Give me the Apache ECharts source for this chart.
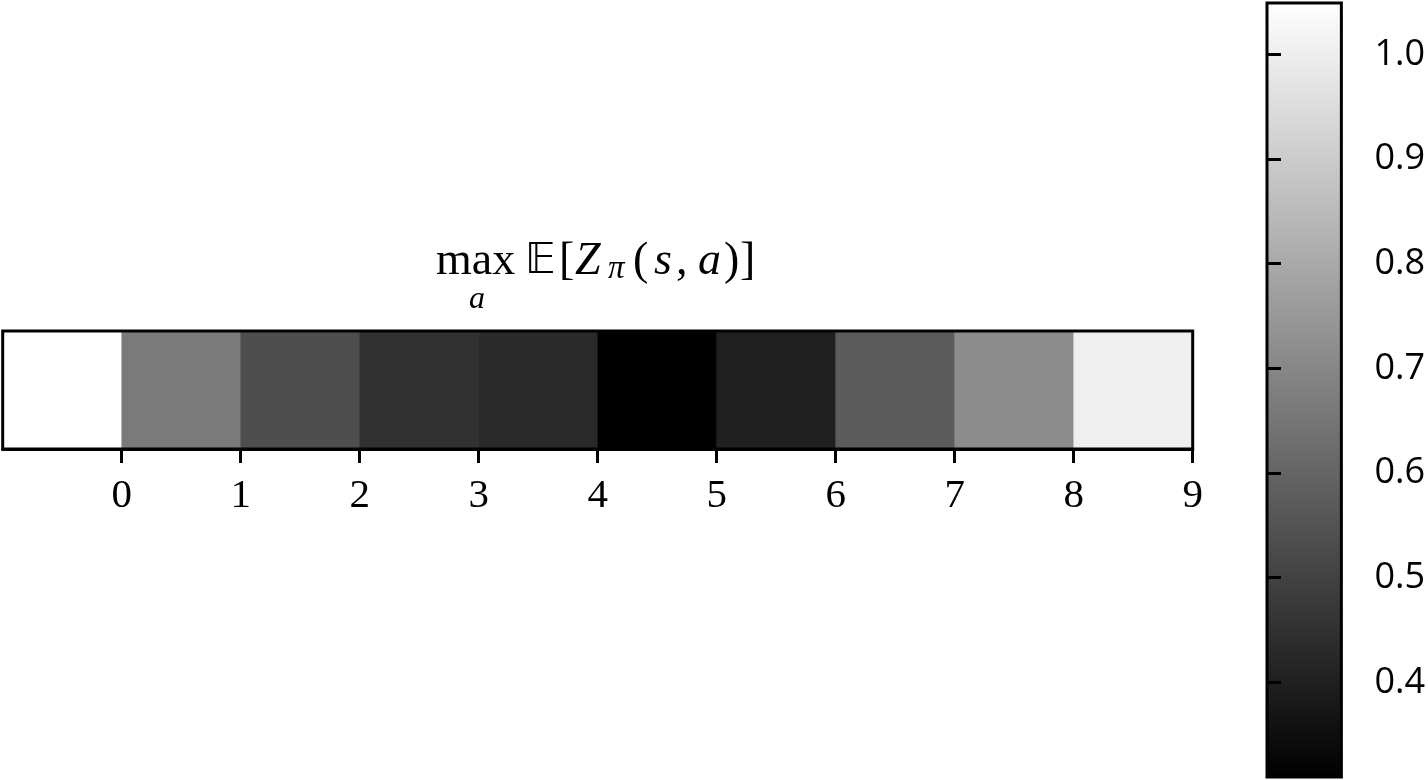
<!DOCTYPE html>
<html>
<head>
<meta charset="utf-8">
<script src="https://cdn.jsdelivr.net/npm/echarts@6/dist/echarts.min.js"></script>
<style>
  html, body { margin: 0; padding: 0; background: #fff; }
  #chart { width: 1428px; height: 780px; }
</style>
</head>
<body>
<div id="chart"></div>
<script>
// ---- data ----
const cellIndex = [0, 1, 2, 3, 4, 5, 6, 7, 8, 9];
const cellValues = [1.049, 0.663, 0.536, 0.452, 0.431, 0.3095, 0.402, 0.576, 0.716, 1.003];
const xTickValues = [0, 1, 2, 3, 4, 5, 6, 7, 8, 9];
const xTickLabels = ['0', '1', '2', '3', '4', '5', '6', '7', '8', '9'];
const cbarTickValues = [0.4, 0.5, 0.6, 0.7, 0.8, 0.9, 1.0];
const cbarTickLabels = ['0.4', '0.5', '0.6', '0.7', '0.8', '0.9', '1.0'];
const vMin = 0.3095;
const vMax = 1.049;
const grayRange = ['#000000', '#ffffff'];

const chart = echarts.init(document.getElementById('chart'), null, { renderer: 'canvas' });

const serif = 'Liberation Serif';
const tok = (w, extra) => Object.assign(
  { fontFamily: serif, fontSize: 46, color: '#000', fontWeight: 'normal', lineHeight: 50, width: w, align: 'left' },
  extra || {}
);

const option = {
  backgroundColor: '#ffffff',
  animation: false,
  title: [
    {
      text: '{m|max}{bb|𝔼}{t1|[}{z|Z}{sub|π}{t2|(}{s|s}{c|,}{a|a}{t3|)}{t4|]}',
      left: 436,
      top: 237,
      padding: 0,
      textStyle: {
        rich: {
          m: tok(89),
          bb: tok(34, { fontFamily: 'DejaVu Sans', fontSize: 42 }),
          t1: tok(16),
          z: tok(33, { fontStyle: 'italic' }),
          sub: tok(25, { fontSize: 33, fontStyle: 'italic', padding: [14, 0, 0, 0] }),
          t2: tok(21),
          s: tok(22, { fontStyle: 'italic' }),
          c: tok(22),
          a: tok(26, { fontStyle: 'italic' }),
          t3: tok(16),
          t4: tok(13)
        }
      }
    },
    {
      text: 'a',
      left: 469,
      top: 284,
      padding: 0,
      textStyle: { fontFamily: serif, fontStyle: 'italic', fontSize: 32, fontWeight: 'normal', color: '#000' }
    }
  ],
  grid: [
    {
      left: 2.7, top: 331, width: 1190, height: 118,
      show: true, z: 5,
      backgroundColor: 'transparent',
      borderColor: '#000', borderWidth: 3
    },
    {
      left: 1267, top: 3, width: 77, height: 774,
      show: true,
      backgroundColor: {
        type: 'linear', x: 0, y: 0, x2: 0, y2: 1,
        colorStops: [{ offset: 0, color: grayRange[1] }, { offset: 1, color: grayRange[0] }]
      },
      borderColor: '#000', borderWidth: 3
    }
  ],
  xAxis: [
    {
      gridIndex: 0, type: 'category', data: cellIndex, position: 'top',
      axisLine: { show: false }, axisTick: { show: false }, axisLabel: { show: false },
      splitLine: { show: false }
    },
    {
      gridIndex: 0, type: 'value', min: -1, max: 9, position: 'bottom', z: 6,
      axisLine: { show: true, lineStyle: { color: '#000', width: 3 } },
      axisTick: { show: true, customValues: xTickValues, length: 14, lineStyle: { color: '#000', width: 3 } },
      axisLabel: {
        show: true, customValues: xTickValues, margin: 27,
        formatter: v => xTickLabels[xTickValues.indexOf(Math.round(v))],
        fontFamily: serif, fontSize: 41, color: '#000'
      },
      splitLine: { show: false }
    },
    {
      gridIndex: 1, type: 'value', min: 0, max: 1, show: false
    }
  ],
  yAxis: [
    {
      gridIndex: 0, type: 'category', data: ['row'],
      axisLine: { show: false }, axisTick: { show: false }, axisLabel: { show: false },
      splitLine: { show: false }
    },
    {
      gridIndex: 1, type: 'value', min: vMin, max: vMax, position: 'right',
      axisLine: { show: false },
      axisTick: { show: true, customValues: cbarTickValues, length: 14, lineStyle: { color: '#000', width: 3 } },
      axisLabel: {
        show: true, customValues: cbarTickValues, margin: 33,
        formatter: v => cbarTickLabels[cbarTickValues.findIndex(t => Math.abs(t - v) < 1e-6)],
        fontFamily: 'Open Sans', fontSize: 36, color: '#000'
      },
      splitLine: { show: false }
    }
  ],
  visualMap: {
    show: false,
    type: 'continuous',
    min: vMin, max: vMax,
    dimension: 2,
    seriesIndex: 0,
    inRange: { color: grayRange }
  },
  series: [
    {
      type: 'heatmap',
      xAxisIndex: 0, yAxisIndex: 0,
      data: cellIndex.map((i) => [i, 0, cellValues[i]]),
      emphasis: { disabled: true },
      itemStyle: { borderWidth: 0 }
    }
  ]
};

chart.setOption(option);
</script>
</body>
</html>
